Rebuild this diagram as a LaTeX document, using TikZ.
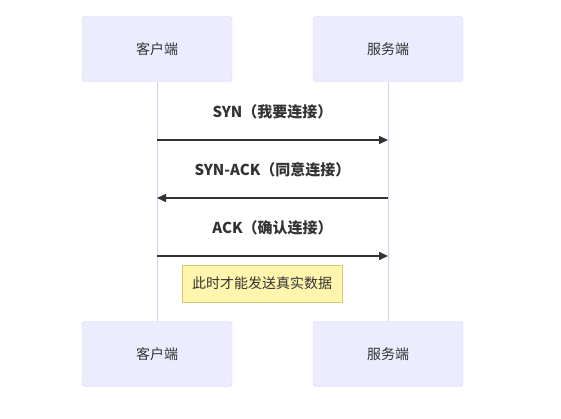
\documentclass[tikz,border=0pt]{standalone}
\usepackage{fontspec}
\setmainfont{Noto Sans CJK SC}
\usetikzlibrary{arrows.meta}
\definecolor{actorfill}{HTML}{ECECFF}
\definecolor{actorline}{HTML}{D8CEF3}
\definecolor{msgline}{HTML}{333333}
\definecolor{notefill}{HTML}{FFF5AD}
\definecolor{noteline}{HTML}{D2CA6E}
\tikzset{
	actor/.style = {
		draw=actorline,
		fill=actorfill,
		rounded corners=3pt,
		minimum width=150pt,
		minimum height=65pt,
		text=msgline,
		font=\fontsize{14}{16}\selectfont
	},
	lifeline/.style = {
		draw=actorline,
		line width=1pt
	},
	msg/.style = {
		draw=msgline,
		line width=1.5pt,
		-{Triangle[length=9pt,width=8pt]}
	},
	msg_label/.style = {
		text=msgline,
		font=\bfseries\fontsize{15}{18}\selectfont
	},
	note/.style = {
		draw=noteline,
		fill=notefill,
		line width=1pt,
		minimum width=160pt,
		minimum height=37pt,
		text=msgline,
		font=\fontsize{14}{16}\selectfont
	},
}

\begin{document}
\begin{tikzpicture}[x=1pt,y=-1pt]
\useasboundingbox (0,0) rectangle (561,418);
% lifelines first, boxes on top
\node [actor] (client_top) at (157,49) {客户端};
\node [actor] (server_top) at (388,49) {服务端};
\node [actor] (client_bot) at (157,354) {客户端};
\node [actor] (server_bot) at (388,354) {服务端};
\draw [lifeline] (client_top) -- (client_bot);
\draw [lifeline] (server_top) -- (server_bot);
% message ends
\coordinate (c_syn) at (157,140);
\coordinate (s_syn) at (388,140);
\coordinate (c_synack) at (157,198);
\coordinate (s_synack) at (388,198);
\coordinate (c_ack) at (157,256);
\coordinate (s_ack) at (388,256);
\node [msg_label] (syn) at (272.5,112) {SYN（我要连接）};
\node [msg_label] (synack) at (272.5,170) {SYN-ACK（同意连接）};
\node [msg_label] (ack) at (272.5,228) {ACK（确认连接）};
\draw [msg] (c_syn) -- (s_syn);
\draw [msg] (s_synack) -- (c_synack);
\draw [msg] (c_ack) -- (s_ack);
\node [note] (real_data) at (262,283.5) {此时才能发送真实数据};
\end{tikzpicture}
\end{document}
